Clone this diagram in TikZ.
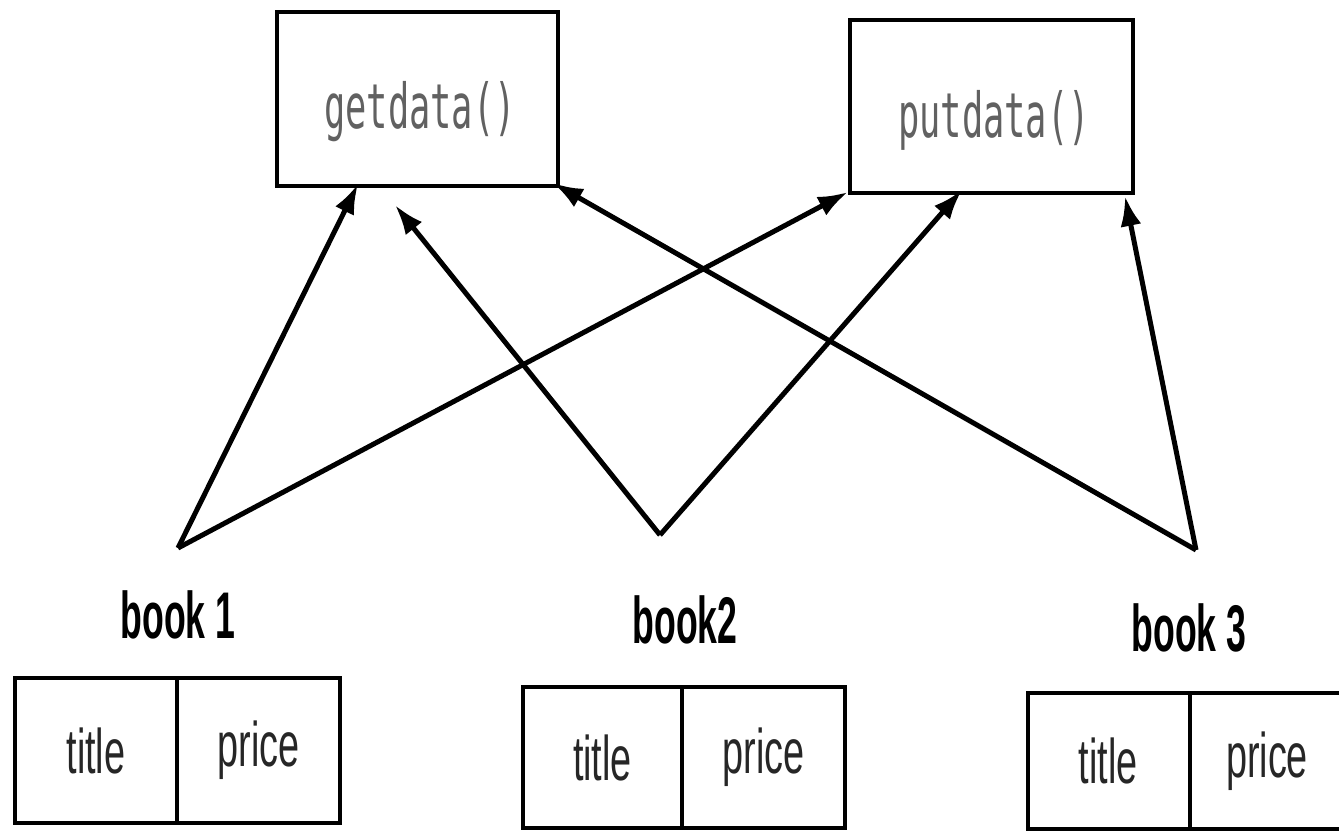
\documentclass[tikz,border=0pt]{standalone}
\usepackage{fontspec}
\usepackage{graphicx}
\setmainfont{Liberation Sans}
\newfontfamily\monofnt{DejaVu Sans Mono}
\usetikzlibrary{arrows.meta}
\newcommand{\sq}[2]{\scalebox{#1}[1]{#2}}
\begin{document}
\begin{tikzpicture}[x=1pt,y=-1pt,
  fnbox/.style={draw, line width=4pt, inner sep=0pt},
  cellbox/.style={draw, line width=3.5pt, inner sep=0pt},
  fntext/.style={font=\monofnt\fontsize{62}{62}\selectfont, text=black!62},
  lbltext/.style={font=\bfseries\fontsize{66}{66}\selectfont, inner sep=0pt},
  celltext/.style={font=\fontsize{63}{63}\selectfont, text=black!85},
  link/.style={line width=5pt, -{Latex[length=30pt,width=21pt]}}]
\useasboundingbox (0,0) rectangle (1339,835);
\clip (0,0) rectangle (1339,835);
% function boxes
\node[fnbox, minimum width=281pt, minimum height=174pt] (get) at (417.5,99) {};
\node[fntext] (gettxt) at (420,112) {\sq{0.57}{getdata()}};
\node[fnbox, minimum width=283pt, minimum height=173pt] (put) at (991.5,106.5) {};
\node[fntext] (puttxt) at (994,120) {\sq{0.57}{putdata()}};
% object labels
\node[lbltext] (l1) at (178,615) {\sq{0.54}{book 1}};
\node[lbltext] (l2) at (685,620) {\sq{0.54}{book2}};
\node[lbltext] (l3) at (1189,628) {\sq{0.54}{book 3}};
% object boxes
\node[cellbox, minimum width=162pt, minimum height=145pt] (t1) at (96,750.5) {};
\node[cellbox, minimum width=163pt, minimum height=145pt] (p1) at (258.5,750.5) {};
\node[celltext] at (t1.center) {\sq{0.6}{title}};
\node[celltext] at (p1.center) {\sq{0.6}{price}};
\node[cellbox, minimum width=159pt, minimum height=141pt] (t2) at (602.5,757.5) {};
\node[cellbox, minimum width=163pt, minimum height=141pt] (p2) at (763.5,757.5) {};
\node[celltext] at (t2.center) {\sq{0.6}{title}};
\node[celltext] at (p2.center) {\sq{0.6}{price}};
\node[cellbox, minimum width=162pt, minimum height=136pt] (t3) at (1109,761) {};
\node[cellbox, minimum width=210pt, minimum height=136pt] (p3) at (1295,761) {};
\node[celltext] at ([xshift=-1pt]t3.center) {\sq{0.6}{title}};
\node[celltext] at ([xshift=-28pt]p3.center) {\sq{0.6}{price}};
% apex points
\coordinate (o1) at (178,548);
\coordinate (o2) at (660,535);
\coordinate (o3) at (1196,550);
% arrow tips
\coordinate (g1) at (358,184);
\coordinate (g2) at (395,205);
\coordinate (g3) at (553,183);
\coordinate (q1) at (848,192);
\coordinate (q2) at (962,190);
\coordinate (q3) at (1125,196);
\draw[link] (o1) -- (g1);
\draw[link] (o1) -- (q1);
\draw[link] (o2) -- (g2);
\draw[link] (o2) -- (q2);
\draw[link] (o3) -- (g3);
\draw[link] (o3) -- (q3);
\end{tikzpicture}
\end{document}
